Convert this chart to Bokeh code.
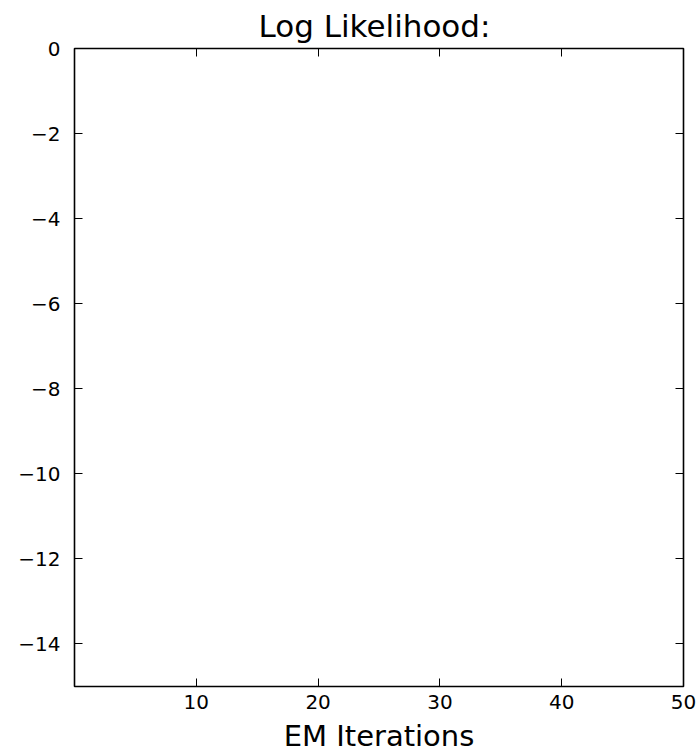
from bokeh.plotting import figure
from bokeh.models import LinearAxis, Range1d, FixedTicker
from bokeh.embed import file_html
from bokeh.resources import INLINE

# ---- data / labels ----
title_text = "Log Likelihood:"
x_label = "EM Iterations"
x_limits = [0, 50]
y_limits = [-15, 0]
x_ticks = [10, 20, 30, 40, 50]
y_ticks = [0, -2, -4, -6, -8, -10, -12, -14]
iterations = []          # no data plotted in the reference
log_likelihood = []

FONT = "DejaVu Sans"
W, H = 696, 755
BL, BR, BT = 74, 13, 47
FRAME_H = 639
BB = H - BT - FRAME_H

p = figure(width=W, height=H, output_backend="svg", toolbar_location=None,
           x_range=Range1d(*x_limits), y_range=Range1d(*y_limits),
           min_border_left=BL, min_border_right=BR, min_border_top=BT,
           min_border_bottom=BB, x_axis_location=None, y_axis_location=None)

p.line(iterations, log_likelihood, line_color="blue")

p.grid.visible = False
p.background_fill_color = "white"
p.border_fill_color = "white"
p.outline_line_color = "black"
p.outline_line_width = 1.6

p.title.text = title_text
p.title.align = "left"
p.title.offset = 184
p.title.text_font = FONT
p.title.text_font_size = "31px"
p.title.text_font_style = "normal"
p.title.text_color = "black"
p.title.standoff = 10

def style(ax, labels=True, ticks=None):
    ax.axis_line_color = None
    ax.major_tick_in = 8
    ax.major_tick_out = 0
    ax.minor_tick_line_color = None
    ax.major_tick_line_color = "black"
    ax.major_tick_line_width = 1
    ax.major_label_text_font = FONT
    ax.major_label_text_color = "black"
    ax.major_label_text_font_size = "20px"
    if not labels:
        ax.major_label_overrides = {t: "" for t in ticks}
        ax.major_label_standoff = 0

xb = LinearAxis(ticker=FixedTicker(ticks=x_ticks), axis_label=x_label)
style(xb)
xb.major_label_standoff = 8
xb.axis_label_text_font = FONT
xb.axis_label_text_font_size = "29px"
xb.axis_label_text_font_style = "normal"
xb.axis_label_text_color = "black"
xb.axis_label_standoff = 7
p.add_layout(xb, "below")

yl = LinearAxis(ticker=FixedTicker(ticks=y_ticks))
style(yl)
yl.major_label_standoff = 14
yl.major_label_overrides = {t: str(t).replace("-", "\u2212") for t in y_ticks}
p.add_layout(yl, "left")

xt = LinearAxis(ticker=FixedTicker(ticks=x_ticks))
style(xt, labels=False, ticks=x_ticks)
p.add_layout(xt, "above")

yr = LinearAxis(ticker=FixedTicker(ticks=y_ticks))
style(yr, labels=False, ticks=y_ticks)
p.add_layout(yr, "right")

open("out.html", "w").write(file_html(p, INLINE))
